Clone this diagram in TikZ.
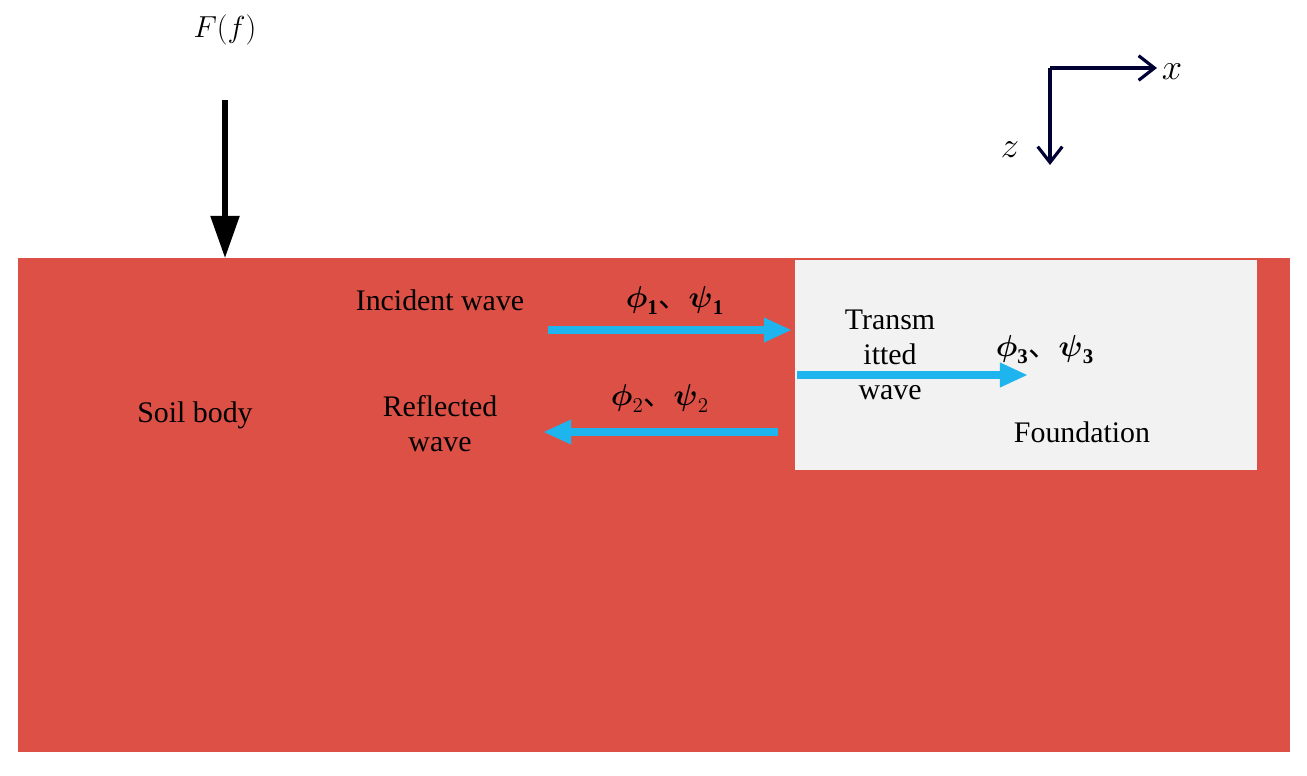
\documentclass[tikz,border=0pt]{standalone}
\usepackage{amsmath}
\usepackage{amssymb}
\usepackage{fontspec}
\setmainfont{Liberation Serif}
\newfontfamily\cjk{Noto Sans CJK SC}
\usepackage{tikz}
\usetikzlibrary{arrows.meta}
\usetikzlibrary{calc}
\definecolor{soilred}{HTML}{DC5045}
\definecolor{foundgray}{HTML}{F2F2F2}
\definecolor{wavecyan}{HTML}{1EB4EE}
\newcommand{\dun}{{\cjk 、}}

\begin{document}
\begin{tikzpicture}[x=0.02cm, y=-0.02cm,
      every node/.style={color=black, font=\fontsize{17}{20}\selectfont, align=center},
      wave/.style={wavecyan, line width=4.5pt, -{Triangle[length=16pt,width=13pt]}},
      load/.style={black, line width=3pt, -{Triangle[length=24pt,width=16pt]}},
      axis/.style={black!80!blue, line width=1.8pt, -{Straight Barb[length=9pt,width=14pt]}}
      ]
      \useasboundingbox (0,0) rectangle (1307,775);
      % soil and foundation
      \fill[soilred] (18,258) rectangle (1290,752);
      \fill[foundgray] (795,260) rectangle (1257,470);

      % load
      \node (Load) at (225,30) {$F(f)$};
      \coordinate (LoadTop) at (225,100);
      \coordinate (LoadEnd) at (225,258);
      \draw[load] (LoadTop) -- (LoadEnd);

      % axes
      \coordinate (O) at (1050,68);
      \coordinate (XEnd) at (1157,68);
      \coordinate (ZEnd) at (1050,165);
      \draw[axis] (O) -- (XEnd);
      \draw[axis] (O) -- (ZEnd);
      \node[font=\fontsize{22}{24}\selectfont] (XLabel) at (1172,72) {$x$};
      \node[font=\fontsize{22}{24}\selectfont] (ZLabel) at (1010,150) {$z$};

      % waves
      \node (Incident) at (440,300) {Incident wave};
      \node (PhiA) at (675,300) {$\boldsymbol{\phi}_{\mathbf 1}$\dun$\boldsymbol{\psi}_{\mathbf 1}$};
      \coordinate (IncA) at (548,330);
      \coordinate (IncB) at (792,330);
      \draw[wave] (IncA) -- (IncB);

      \node (Reflected) at (440,424) {Reflected\\wave};
      \node (PhiB) at (660,398) {$\boldsymbol{\phi}_{2}$\dun$\boldsymbol{\psi}_{2}$};
      \coordinate (RefA) at (778,432);
      \coordinate (RefB) at (543,432);
      \draw[wave] (RefA) -- (RefB);

      \node[text width=3cm] (Transmitted) at (890,355) {Transm\\itted\\wave};
      \node (PhiC) at (1045,350) {$\boldsymbol{\phi}_{\mathbf 3}$\dun$\boldsymbol{\psi}_{\mathbf 3}$};
      \coordinate (TraA) at (797,375);
      \coordinate (TraB) at (1028,375);
      \draw[wave] (TraA) -- (TraB);

      \node (Foundation) at (1082,432) {Foundation};
      \node (Soil) at (195,415) {Soil body};
    \end{tikzpicture}
\end{document}
